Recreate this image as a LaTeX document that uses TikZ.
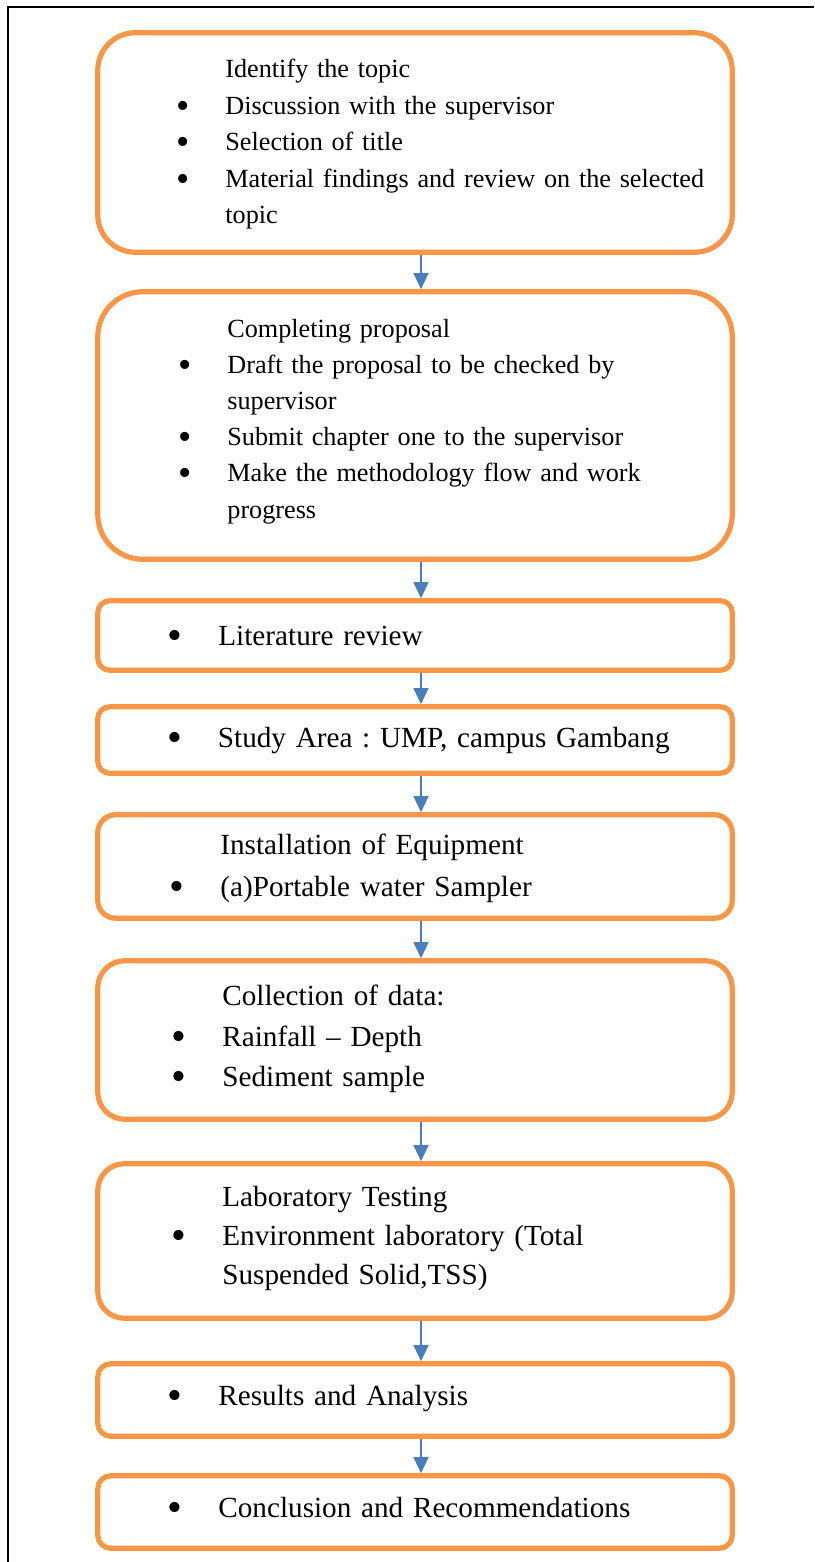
\documentclass[tikz,border=0pt]{standalone}
\usepackage{fontspec}
\setmainfont{Liberation Serif}
\usetikzlibrary{arrows.meta}
\definecolor{boxline}{HTML}{F79646}
\definecolor{flow}{HTML}{4A7EBB}
\newcommand{\stepitem}{\leavevmode\llap{\raisebox{-2pt}{\scalebox{1.45}{\textbullet}}\hspace{18pt}}}
\frenchspacing

\begin{document}
\begin{tikzpicture}[
    x=0.5pt, y=-0.5pt,
    stepbox/.style={
        draw=boxline,
        line width=2.6pt,
        minimum width=317.25pt,
        inner sep=0pt,
    },
    steptext/.style={
        anchor=base west,
        inner sep=0pt,
        text width=250pt,
        align=left,
        font=\fontsize{14.6pt}{#1}\selectfont,
    },
    steptext/.default=19.5pt,
    flowarrow/.style={
        flow,
        line width=0.75pt,
        -{Triangle[length=8pt, width=7.5pt]},
    },
]
\useasboundingbox (0,0) rectangle (814,1562);

% =============================================
% PAGE FRAME – top and left edge
% =============================================
\draw[black, line width=1pt] (814,7.5) -- (8,7.5) -- (8,1562);

% =============================================
% STEP BOXES
% =============================================
\node[stepbox, minimum height=109.75pt, rounded corners=18.75pt] (topic)    at (415,142.5) {};
\node[stepbox, minimum height=133.75pt, rounded corners=22.5pt]  (proposal) at (415,425.5) {};
\node[stepbox, minimum height=34.75pt,  rounded corners=6pt]     (litrev)   at (415,635.5) {};
\node[stepbox, minimum height=33.25pt,  rounded corners=6pt]     (area)     at (415,740)   {};
\node[stepbox, minimum height=51.75pt,  rounded corners=9pt]     (install)  at (415,866.5) {};
\node[stepbox, minimum height=79.25pt,  rounded corners=13.5pt]  (collect)  at (415,1040)  {};
\node[stepbox, minimum height=77.25pt,  rounded corners=13.3pt]  (labtest)  at (415,1241)  {};
\node[stepbox, minimum height=36.25pt,  rounded corners=6.5pt]   (results)  at (415,1400)  {};
\node[stepbox, minimum height=36.25pt,  rounded corners=6.5pt]   (concl)    at (415,1512)  {};

% =============================================
% STEP TEXTS
% =============================================
% Identify the topic
\node[steptext, font=\fontsize{13.1pt}{18.25pt}\selectfont] (topictext) at (225,77.7) {%
  Identify the topic\\
  \stepitem Discussion with the supervisor\\
  \stepitem Selection of title\\
  \stepitem Material findings and review on the selected\\
  topic%
};
% Completing proposal
\node[steptext, font=\fontsize{13.1pt}{18.1pt}\selectfont] (proposaltext) at (227,337) {%
  Completing proposal\\
  \stepitem Draft the proposal to be checked by\\
  supervisor\\
  \stepitem Submit chapter one to the supervisor\\
  \stepitem Make the methodology flow and work\\
  progress%
};
% Literature review
\node[steptext] (litrevtext) at (218,645.7) {\stepitem Literature review};
% Study area
\node[steptext] (areatext) at (217.5,747) {\stepitem Study Area : UMP, campus Gambang};
% Equipment
\node[steptext=21pt] (installtext) at (220,854) {%
  Installation of Equipment\\
  \stepitem (a)Portable water Sampler%
};
% Data collection
\node[steptext=20.25pt] (collecttext) at (222,1005.5) {%
  Collection of data:\\
  \stepitem Rainfall -- Depth\\
  \stepitem Sediment sample%
};
% Laboratory testing
\node[steptext=19.5pt] (labtesttext) at (222,1206) {%
  Laboratory Testing\\
  \stepitem Environment laboratory (Total\\
  Suspended Solid,TSS)%
};
% Results
\node[steptext] (resultstext) at (218,1405) {\stepitem Results and Analysis};
% Conclusion
\node[steptext] (concltext) at (218,1517) {\stepitem Conclusion and Recommendations};

% =============================================
% FLOW ARROWS
% =============================================
\draw[flowarrow] ([xshift=3pt]topic.south)    -- ([xshift=3pt]proposal.north);
\draw[flowarrow] ([xshift=3pt]proposal.south) -- ([xshift=3pt]litrev.north);
\draw[flowarrow] ([xshift=3pt]litrev.south)   -- ([xshift=3pt]area.north);
\draw[flowarrow] ([xshift=3pt]area.south)     -- ([xshift=3pt]install.north);
\draw[flowarrow] ([xshift=3pt]install.south)  -- ([xshift=3pt]collect.north);
\draw[flowarrow] ([xshift=3pt]collect.south)  -- ([xshift=3pt]labtest.north);
\draw[flowarrow] ([xshift=3pt]labtest.south)  -- ([xshift=3pt]results.north);
\draw[flowarrow] ([xshift=3pt]results.south)  -- ([xshift=3pt]concl.north);

\end{tikzpicture}
\end{document}
